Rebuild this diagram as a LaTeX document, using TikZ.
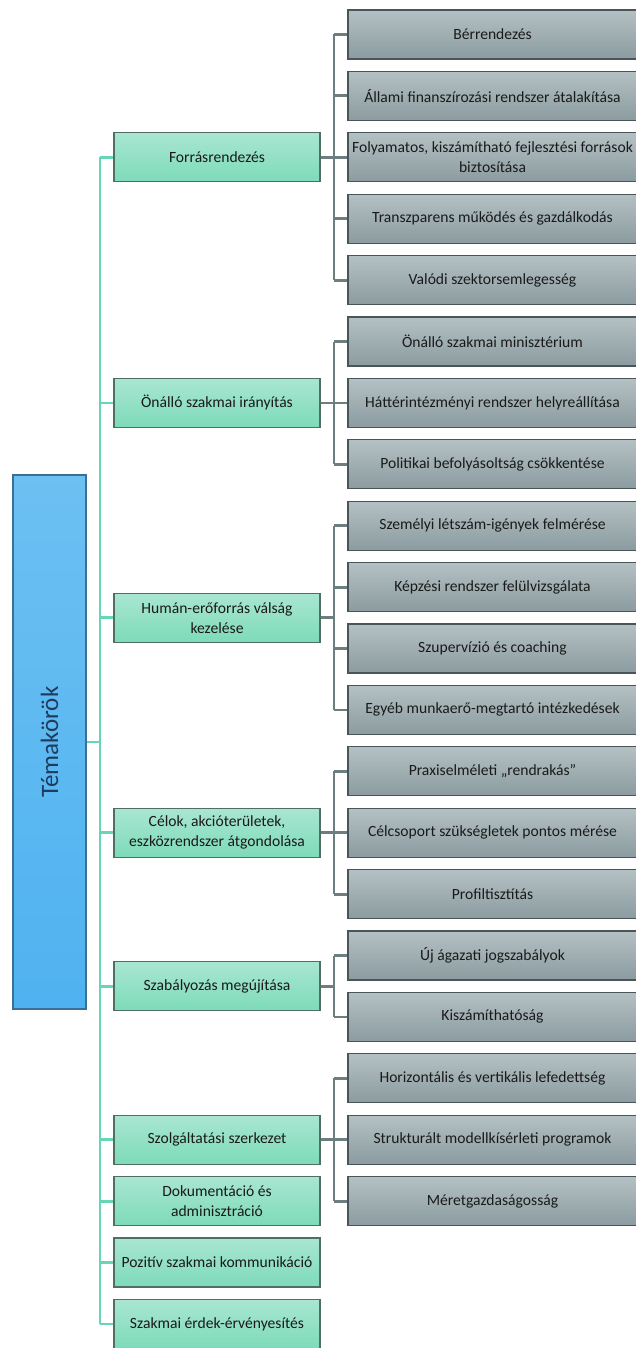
\documentclass[tikz,border=0pt]{standalone}
\usepackage{fontspec}
\setmainfont{Carlito}
\definecolor{rootfillA}{HTML}{6CC0F2}
\definecolor{rootfillB}{HTML}{4FB2F0}
\definecolor{rootdraw}{HTML}{3A6F96}
\definecolor{roottext}{HTML}{1E3C5E}
\definecolor{midA}{HTML}{A9E6D2}
\definecolor{midB}{HTML}{7DDBB9}
\definecolor{middraw}{HTML}{4F6E64}
\definecolor{leafA}{HTML}{B4C1C4}
\definecolor{leafB}{HTML}{8B9B9F}
\definecolor{leafdraw}{HTML}{4A5557}
\definecolor{mintline}{HTML}{66D6B6}
\definecolor{grayline}{HTML}{6C7E7F}
\definecolor{txt}{HTML}{1A1A1A}
\tikzset{
  rootbox/.style={draw=rootdraw, line width=1.2pt, top color=rootfillA, bottom color=rootfillB,
    minimum width=73pt, minimum height=534pt, inner sep=0pt},
  midbox/.style={draw=middraw, line width=1.2pt, top color=midA, bottom color=midB,
    minimum width=206pt, minimum height=49pt, inner sep=0pt, align=center, text=txt,
    font=\fontsize{15.6}{20}\selectfont},
  leafbox/.style={draw=leafdraw, line width=1.2pt, top color=leafA, bottom color=leafB,
    minimum width=289pt, minimum height=49pt, inner sep=0pt, align=center, text=txt,
    font=\fontsize{15.6}{20}\selectfont},
  rootline/.style={draw=mintline, line width=2.8pt},
  brline/.style={draw=grayline, line width=2.8pt},
}
\begin{document}
\begin{tikzpicture}[x=1pt, y={(0pt,-1pt)}]
\useasboundingbox (0,0) rectangle (636,1348);
\fill[white] (0,0) rectangle (636,1348);
\coordinate (rx) at (100,0);
\coordinate (bx) at (334,0);

% root
\node[rootbox] (root) at (49.5,742) {};
\node[rotate=90, text=roottext, font=\fontsize{25}{30}\selectfont] (roottxt) at (root.center) {Témakörök};

% middle boxes
\node[midbox] (m1) at (217,157.3) {Forrásrendezés};
\node[midbox] (m2) at (217,402.9) {Önálló szakmai irányítás};
\node[midbox] (m3) at (217,617.8) {Humán-erőforrás válság\\kezelése};
\node[midbox] (m4) at (217,832.7) {Célok, akcióterületek,\\eszközrendszer átgondolása};
\node[midbox] (m5) at (217,986.2) {Szabályozás megújítása};
\node[midbox] (m6) at (217,1139.7) {Szolgáltatási szerkezet};
\node[midbox] (m7) at (217,1201.1) {Dokumentáció és\\adminisztráció};
\node[midbox] (m8) at (217,1262.5) {Pozitív szakmai kommunikáció};
\node[midbox] (m9) at (217,1323.9) {Szakmai érdek-érvényesítés};

% leaves
\node[leafbox] (l0) at (492.5,34.5) {Bérrendezés};
\node[leafbox] (l1) at (492.5,95.9) {Állami finanszírozási rendszer átalakítása};
\node[leafbox] (l2) at (492.5,157.3) {Folyamatos, kiszámítható fejlesztési források\\biztosítása};
\node[leafbox] (l3) at (492.5,218.7) {Transzparens működés és gazdálkodás};
\node[leafbox] (l4) at (492.5,280.1) {Valódi szektorsemlegesség};
\node[leafbox] (l5) at (492.5,341.5) {Önálló szakmai minisztérium};
\node[leafbox] (l6) at (492.5,402.9) {Háttérintézményi rendszer helyreállítása};
\node[leafbox] (l7) at (492.5,464.3) {Politikai befolyásoltság csökkentése};
\node[leafbox] (l8) at (492.5,525.7) {Személyi létszám-igények felmérése};
\node[leafbox] (l9) at (492.5,587.1) {Képzési rendszer felülvizsgálata};
\node[leafbox] (l10) at (492.5,648.5) {Szupervízió és coaching};
\node[leafbox] (l11) at (492.5,709.9) {Egyéb munkaerő-megtartó intézkedések};
\node[leafbox] (l12) at (492.5,771.3) {Praxiselméleti „rendrakás”};
\node[leafbox] (l13) at (492.5,832.7) {Célcsoport szükségletek pontos mérése};
\node[leafbox] (l14) at (492.5,894.1) {Profiltisztítás};
\node[leafbox] (l15) at (492.5,955.5) {Új ágazati jogszabályok};
\node[leafbox] (l16) at (492.5,1016.9) {Kiszámíthatóság};
\node[leafbox] (l17) at (492.5,1078.3) {Horizontális és vertikális lefedettség};
\node[leafbox] (l18) at (492.5,1139.7) {Strukturált modellkísérleti programok};
\node[leafbox] (l19) at (492.5,1201.1) {Méretgazdaságosság};

% root connectors
\draw[rootline] (root.east) -- (root.east -| rx);
\draw[rootline] (m1.west -| rx) -- (m9.west -| rx);
\foreach \m in {m1,m2,m3,m4,m5,m6,m7,m8,m9}
  \draw[rootline] (\m.west) -- (\m.west -| rx);

% brackets
\foreach \m/\a/\b in {m1/l0/l4, m2/l5/l7, m3/l8/l11, m4/l12/l14, m5/l15/l16, m6/l17/l19}{
  \draw[brline] (\m.east) -- (\m.east -| bx);
  \draw[brline] (\a.west -| bx) -- (\b.west -| bx);
}
\foreach \l in {l0,l1,l2,l3,l4,l5,l6,l7,l8,l9,l10,l11,l12,l13,l14,l15,l16,l17,l18,l19}
  \draw[brline] (\l.west) -- (\l.west -| bx);
\end{tikzpicture}
\end{document}
